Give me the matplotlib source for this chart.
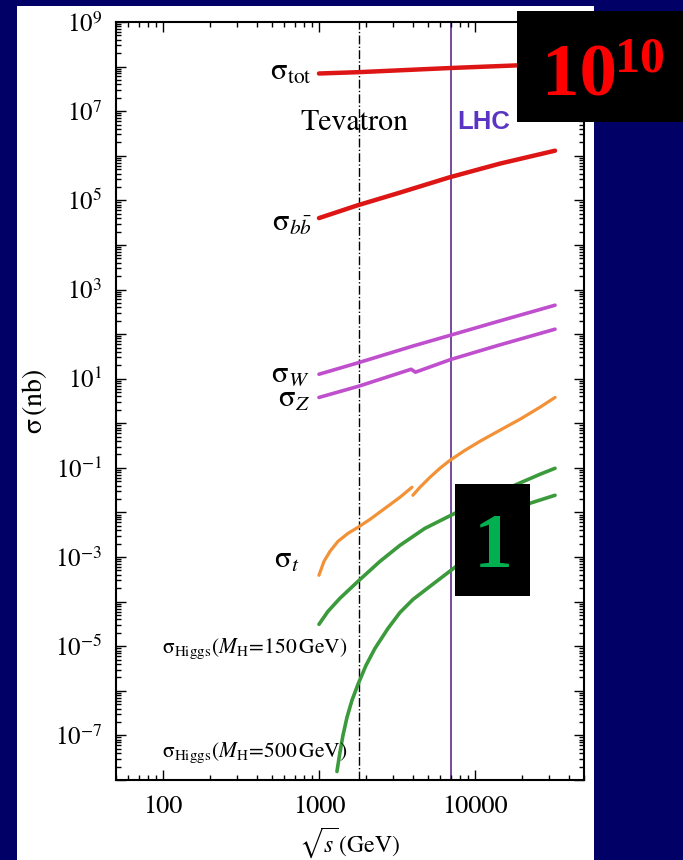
import numpy as np
import matplotlib
matplotlib.use("Agg")
import matplotlib.pyplot as plt
from matplotlib.patches import Rectangle
from matplotlib.ticker import FixedLocator, LogLocator, FuncFormatter, NullFormatter

plt.rcParams['font.family'] = ['STIXGeneral', 'DejaVu Serif']
plt.rcParams['mathtext.fontset'] = 'stix'

# cross sections (nb) vs sqrt(s) (GeV)
tot_x = [1000, 1800, 7000, 32600]
tot_y = [7.0e7, 7.5e7, 9.3e7, 1.15e8]

bb_x = [1000, 1780, 3300, 6900, 14460, 32600]
bb_y = [4.0e4, 7.8e4, 1.49e5, 3.3e5, 6.67e5, 1.3e6]

w_x = [1000, 1800, 4000, 7000, 14000, 32600]
w_y = [12.6, 23, 54, 95, 192, 445]

z_x = [1000, 1800, 3900, 4150, 7000, 14000, 32600]
z_y = [3.8, 6.8, 16.3, 14.0, 27, 55.6, 129]

# top: p-pbar branch below 4 TeV, p-p branch above
top1_x = [1000, 1077, 1176, 1324, 1535, 1778, 2124, 2650, 3304, 3945]
top1_y = [3.9e-4, 8.0e-4, 1.34e-3, 2.25e-3, 3.4e-3, 4.65e-3, 7.0e-3, 0.0124, 0.0219, 0.0367]
top2_x = [4000, 4437, 5147, 5965, 6918, 8630, 10770, 14460, 19420, 26100, 32600]
top2_y = [0.0243, 0.0367, 0.0615, 0.098, 0.148, 0.248, 0.395, 0.70, 1.23, 2.29, 3.8]

h150_x = [1000, 1142, 1363, 1778, 2460, 3304, 4777, 7447, 12480, 18570, 26100, 32600]
h150_y = [3.1e-5, 6.05e-5, 1.19e-4, 2.85e-4, 8.0e-4, 1.83e-3, 4.4e-3, 9.6e-3, 0.0231,
          0.0429, 0.0718, 0.098]

h500_x = [1304, 1363, 1425, 1512, 1627, 1778, 2001, 2285, 2768, 3304, 4005, 5147, 7447,
          22520, 32600]
h500_y = [1.55e-8, 4.15e-8, 1.0e-7, 2.53e-7, 6.1e-7, 1.39e-6, 3.7e-6, 8.95e-6, 2.5e-5,
          5.7e-5, 1.12e-4, 2.2e-4, 5.9e-4, 0.0161, 0.0243]

tevatron_x = 1800
lhc_x = 7000

navy = '#000066'
red = '#dd1515'
purple = '#c04fce'
orange = '#f39137'
green = '#3b9a3b'

fig = plt.figure(figsize=(6.83, 8.6), dpi=100, facecolor=navy)
W, H = 683.0, 860.0

# white slide panel
fig.patches.append(Rectangle((17 / W, 0), 577 / W, 854 / H, transform=fig.transFigure,
                             facecolor='white', edgecolor='none', zorder=-5))

ax = fig.add_axes([116 / W, 80 / H, 468 / W, 758 / H])
ax.set_facecolor('white')
ax.set_xscale('log')
ax.set_yscale('log')
ax.set_xlim(50, 50000)
ax.set_ylim(1e-8, 1e9)

ax.axvline(tevatron_x, color='black', lw=1.0, ls='-.', zorder=1)
ax.axvline(lhc_x, color='#5b2c8f', lw=1.2, zorder=1)

kw = dict(solid_capstyle='round', solid_joinstyle='round')
ax.plot(tot_x, tot_y, color=red, lw=3.2, **kw)
ax.plot(bb_x, bb_y, color=red, lw=3.2, **kw)
ax.plot(w_x, w_y, color=purple, lw=2.6, **kw)
ax.plot(z_x, z_y, color=purple, lw=2.6, **kw)
ax.plot(top1_x, top1_y, color=orange, lw=2.3, **kw)
ax.plot(top2_x, top2_y, color=orange, lw=2.3, **kw)
ax.plot(h150_x, h150_y, color=green, lw=2.6, **kw)
ax.plot(h500_x, h500_y, color=green, lw=2.6, **kw)

# ticks
ax.yaxis.set_major_locator(FixedLocator([10.0 ** k for k in range(-8, 10)]))
ax.yaxis.set_major_formatter(FuncFormatter(
    lambda v, p: r'$10^{%d}$' % round(np.log10(v)) if round(np.log10(v)) % 2 else ''))
ax.yaxis.set_minor_locator(LogLocator(base=10, subs=np.arange(2, 10), numticks=40))
ax.yaxis.set_minor_formatter(NullFormatter())
ax.xaxis.set_major_locator(FixedLocator([100, 1000, 10000]))
ax.xaxis.set_major_formatter(FuncFormatter(lambda v, p: '%d' % v))
ax.xaxis.set_minor_locator(LogLocator(base=10, subs=np.arange(2, 10), numticks=20))
ax.xaxis.set_minor_formatter(NullFormatter())
ax.tick_params(which='both', direction='in', top=True, right=True, width=1.0, color='black')
ax.tick_params(which='major', length=7)
ax.tick_params(which='minor', length=3.5)
ax.tick_params(axis='y', labelsize=18, pad=10)
ax.tick_params(axis='x', labelsize=19, pad=11)
for s in ax.spines.values():
    s.set_linewidth(1.5)

ax.set_ylabel(r'$\mathrm{\sigma}\,$(nb)', fontsize=20, labelpad=4)
ax.set_xlabel(r'$\sqrt{s}\,$(GeV)', fontsize=17, labelpad=4)

# curve labels
sig = r'$\mathrm{\sigma}_{%s}$'
ax.text(900, 5.0e7, sig % r'\rm tot', fontsize=22, ha='right', va='baseline')
ax.text(900, 2.1e4, sig % r'b\bar{b}', fontsize=22, ha='right', va='baseline')
ax.text(875, 8.6, sig % 'W', fontsize=22, ha='right', va='baseline')
ax.text(875, 2.3, sig % 'Z', fontsize=22, ha='right', va='baseline')
ax.text(755, 5.6e-4, sig % 't', fontsize=22, ha='right', va='baseline')
higgs = r'$\mathrm{\sigma}_{\rm Higgs}\left(M_{\rm H}\!=\!%d\,{\rm GeV}\right)$'
ax.text(98, 6.9e-6, higgs % 150, fontsize=15.5, ha='left', va='baseline')
ax.text(98, 3.2e-8, higgs % 500, fontsize=15.5, ha='left', va='baseline')
ax.text(755, 3.77e6, 'Tevatron', fontsize=21.5, ha='left', va='baseline')
ax.text(7700, 3.9e6, 'LHC', fontsize=18.5, ha='left', va='baseline', color='#5a35c4',
        family='Liberation Sans', weight='bold')

# black boxes on top
fig.patches.append(Rectangle((517 / W, 1 - 122 / H), 166 / W, 111 / H, transform=fig.transFigure,
                             facecolor='black', edgecolor='none', zorder=5))
fig.patches.append(Rectangle((455 / W, 1 - 596 / H), 75 / W, 112 / H, transform=fig.transFigure,
                             facecolor='black', edgecolor='none', zorder=5))
fig.text(542 / W, 1 - 95 / H, '10', fontsize=54, color='#ff0000', weight='bold',
         family='Liberation Serif', ha='left', va='baseline', zorder=6)
fig.text(615 / W, 1 - 72 / H, '10', fontsize=36, color='#ff0000', weight='bold',
         family='Liberation Serif', ha='left', va='baseline', zorder=6)
fig.text(493 / W, 1 - 567 / H, '1', fontsize=56, color='#00b050', weight='bold',
         family='Liberation Serif', ha='center', va='baseline', zorder=6)

fig.savefig('out.png', dpi=100, facecolor=navy)
